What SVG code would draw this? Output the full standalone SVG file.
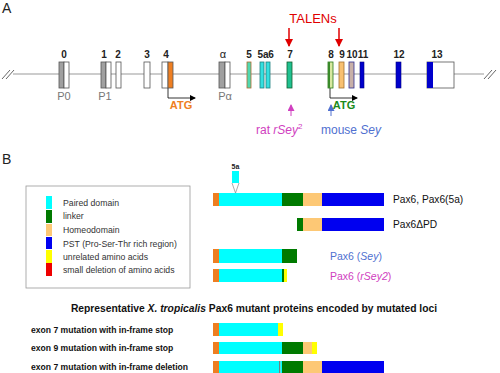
<svg xmlns="http://www.w3.org/2000/svg" width="500" height="373" viewBox="0 0 500 373">
<defs>
<style>
text{font-family:"Liberation Sans",Arial,sans-serif}
.num{font-size:10px;font-weight:bold;fill:#222;text-anchor:middle}
.prom{font-size:11px;fill:#777;text-anchor:middle}
.ex{stroke:#555;stroke-width:0.8}
.leg{font-size:8.7px;fill:#333}
.lab{font-size:10.2px;fill:#111}
.mut{font-size:8.6px;font-weight:bold;fill:#111}
.or{fill:#ee7f22}.cy{fill:#00ffff}.gr{fill:#007a00}.ho{fill:#fdc875}.bl{fill:#0000f0}.ye{fill:#ffff00}.rd{fill:#ee0000}
</style>
<marker id="ah" markerWidth="6" markerHeight="6" refX="5" refY="3" orient="auto" markerUnits="userSpaceOnUse"><path d="M0,0 L6,3 L0,6 z" fill="#000"/></marker>
<marker id="ahr" markerWidth="8" markerHeight="8" refX="7" refY="4" orient="auto" markerUnits="userSpaceOnUse"><path d="M0,0 L8,4 L0,8 z" fill="#e00000"/></marker>
<marker id="ahm" markerWidth="7" markerHeight="7" refX="6" refY="3.5" orient="auto" markerUnits="userSpaceOnUse"><path d="M0,0 L7,3.5 L0,7 z" fill="#d040c0"/></marker>
<marker id="ahb" markerWidth="7" markerHeight="7" refX="6" refY="3.5" orient="auto" markerUnits="userSpaceOnUse"><path d="M0,0 L7,3.5 L0,7 z" fill="#5070d0"/></marker>
</defs>
<rect width="500" height="373" fill="#fff"/>
<text x="2" y="13" font-size="14" fill="#222">A</text>
<text x="2" y="164" font-size="14" fill="#222">B</text>

<g id="connectors">
<line x1="13" y1="74" x2="484" y2="74" stroke="#999" stroke-width="1.2"/>
<path d="M2,79 L10,70 M6,79 L14,70" stroke="#555" stroke-width="0.9" fill="none"/>
<path d="M484,79 L492,70 M488,79 L496,70" stroke="#555" stroke-width="0.9" fill="none"/>
<path d="M168,88 V98 H195" stroke="#000" stroke-width="0.8" fill="none" marker-end="url(#ah)"/>
<path d="M330,88 V98 H357" stroke="#000" stroke-width="0.8" fill="none" marker-end="url(#ah)"/>
<line x1="289" y1="28" x2="289" y2="46" stroke="#e00000" stroke-width="1.5" marker-end="url(#ahr)"/>
<line x1="339" y1="28" x2="339" y2="46" stroke="#e00000" stroke-width="1.5" marker-end="url(#ahr)"/>
<line x1="291" y1="116" x2="291" y2="105" stroke="#d040c0" stroke-width="1" marker-end="url(#ahm)"/>
<line x1="331" y1="116" x2="331" y2="105" stroke="#5070d0" stroke-width="1" marker-end="url(#ahb)"/>
<path d="M232,183 L235.5,193 L239,183" stroke="#888" stroke-width="0.7" fill="none"/>
</g>

<g id="exon0"><rect x="59" y="62" width="5" height="26" fill="#a0a0a0" class="ex"/><rect x="64" y="62" width="5" height="26" fill="#fff" class="ex"/><text x="64" y="58" class="num">0</text><text x="64" y="100" class="prom">P0</text></g>
<g id="exon1"><rect x="101" y="62" width="5" height="26" fill="#a0a0a0" class="ex"/><rect x="106" y="62" width="5" height="26" fill="#fff" class="ex"/><text x="104" y="58" class="num">1</text><text x="105" y="100" class="prom">P1</text></g>
<g id="exon2"><rect x="116" y="62" width="5" height="26" fill="#fff" class="ex"/><text x="118" y="58" class="num">2</text></g>
<g id="exon3"><rect x="144" y="62" width="6" height="26" fill="#fff" class="ex"/><text x="147" y="58" class="num">3</text></g>
<g id="exon4"><rect x="162" y="62" width="6" height="26" fill="#fff" class="ex"/><rect x="168" y="62" width="5" height="26" fill="#ee7f22" class="ex"/><text x="166" y="58" class="num">4</text><text x="181" y="109" font-size="11" font-weight="bold" fill="#ee7f22" text-anchor="middle">ATG</text></g>
<g id="exonA"><rect x="219" y="62" width="6" height="26" fill="#a0a0a0" class="ex"/><rect x="225" y="62" width="5" height="26" fill="#fff" class="ex"/><text x="223" y="58" font-size="11" fill="#222" text-anchor="middle">α</text><text x="225" y="100" class="prom">Pα</text></g>
<g id="exon5"><rect x="247" y="62" width="4" height="26" fill="#50d8b0" stroke="#b06a30" stroke-width="0.8"/><text x="249" y="58" class="num">5</text></g>
<g id="exon5a"><rect x="260" y="62" width="4" height="26" fill="#33e0e0" stroke="#208080" stroke-width="0.8"/><text x="263" y="58" class="num">5a</text></g>
<g id="exon6"><rect x="266" y="62" width="4" height="26" fill="#33e0e0" stroke="#208080" stroke-width="0.8"/><text x="271" y="58" class="num">6</text></g>
<g id="exon7"><rect x="287" y="62" width="5" height="26" fill="#20c090" stroke="#106030" stroke-width="0.8"/><text x="290" y="58" class="num">7</text></g>
<g id="exon8"><rect x="328" y="62" width="5" height="26" fill="#d8e8a0" stroke="#2a7a1a" stroke-width="0.8"/><rect x="328" y="62" width="2" height="26" fill="#3a8a2a"/><text x="331" y="58" class="num">8</text><text x="344" y="109" font-size="11" font-weight="bold" fill="#1a8a1a" text-anchor="middle">ATG</text></g>
<g id="exon9"><rect x="339" y="62" width="5" height="26" fill="#f8c070" stroke="#a07030" stroke-width="0.8"/><text x="342" y="58" class="num">9</text></g>
<g id="exon10"><rect x="349" y="62" width="5" height="26" fill="#c8b0a8" stroke="#303090" stroke-width="0.8"/><text x="352" y="58" class="num">10</text></g>
<g id="exon11"><rect x="360" y="62" width="4" height="26" fill="#0000cc" stroke="#000080" stroke-width="0.6"/><text x="363" y="58" class="num">11</text></g>
<g id="exon12"><rect x="396" y="62" width="5" height="26" fill="#0000cc" stroke="#000080" stroke-width="0.6"/><text x="399" y="58" class="num">12</text></g>
<g id="exon13"><rect x="427" y="62" width="27" height="26" fill="#fff" class="ex"/><rect x="427" y="62" width="6" height="26" fill="#0000cc"/><text x="437" y="58" class="num">13</text></g>

<g id="talens"><text x="313" y="23" font-size="13" fill="#e00000" text-anchor="middle">TALENs</text></g>
<g id="rat"><text x="256" y="134" font-size="12" fill="#d040c0">rat <tspan font-style="italic">rSey</tspan><tspan font-size="8" dy="-5">2</tspan></text></g>
<g id="mouse"><text x="321" y="134" font-size="12" fill="#5070d0">mouse <tspan font-style="italic">Sey</tspan></text></g>

<g id="legend">
<rect x="26" y="186" width="164" height="102" fill="#fff" stroke="#999" stroke-width="0.8"/>
<rect x="46" y="196" width="6" height="13" class="cy"/><text x="63" y="206" class="leg">Paired domain</text>
<rect x="46" y="210" width="6" height="13" class="gr"/><text x="63" y="219" class="leg">linker</text>
<rect x="46" y="224" width="6" height="12" class="ho"/><text x="63" y="233" class="leg">Homeodomain</text>
<rect x="46" y="237" width="6" height="12" class="bl"/><text x="63" y="247" class="leg">PST (Pro-Ser-Thr rich region)</text>
<rect x="46" y="250" width="6" height="13" class="ye"/><text x="63" y="260" class="leg">unrelated amino acids</text>
<rect x="46" y="263" width="6" height="13" class="rd"/><text x="63" y="273" class="leg">small deletion of amino acids</text>
</g>

<g id="pax6">
<rect x="232" y="171" width="7" height="12" class="cy"/><text x="235.5" y="169" font-size="7" font-weight="bold" fill="#222" text-anchor="middle">5a</text>
<rect x="213" y="193" width="6" height="13" class="or"/><rect x="219" y="193" width="63" height="13" class="cy"/><rect x="282" y="193" width="21" height="13" class="gr"/><rect x="303" y="193" width="19" height="13" class="ho"/><rect x="322" y="193" width="62" height="13" class="bl"/>
<text x="393" y="203" class="lab">Pax6, Pax6(5a)</text>
</g>
<g id="pax6dpd">
<rect x="297" y="218" width="6" height="13" class="gr"/><rect x="303" y="218" width="19" height="13" class="ho"/><rect x="322" y="218" width="62" height="13" class="bl"/>
<text x="393" y="228" class="lab">Pax6ΔPD</text>
</g>
<g id="pax6sey">
<rect x="213" y="249" width="6" height="14" class="or"/><rect x="219" y="249" width="63" height="14" class="cy"/><rect x="282" y="249" width="15" height="14" class="gr"/>
<text x="330" y="260" font-size="10.5" fill="#5070d0">Pax6 (<tspan font-style="italic">Sey</tspan>)</text>
</g>
<g id="pax6rsey2">
<rect x="213" y="269" width="6" height="13" class="or"/><rect x="219" y="269" width="63" height="13" class="cy"/><rect x="282" y="269" width="2" height="13" class="gr"/><rect x="284" y="269" width="3" height="13" class="ye"/>
<text x="330" y="280" font-size="10.5" fill="#d040c0">Pax6 (<tspan font-style="italic">rSey2</tspan>)</text>
</g>

<text x="254" y="312" font-size="10.3" font-weight="bold" fill="#111" text-anchor="middle">Representative <tspan font-style="italic">X. tropicalis</tspan> Pax6 mutant proteins encoded by mutated loci</text>

<g id="mut1">
<text x="31" y="333" class="mut">exon 7 mutation with in-frame stop</text>
<rect x="213" y="323" width="6" height="13" class="or"/><rect x="219" y="323" width="59" height="13" class="cy"/><rect x="278" y="323" width="5" height="13" class="ye"/>
</g>
<g id="mut2">
<text x="31" y="351" class="mut">exon 9 mutation with in-frame stop</text>
<rect x="213" y="342" width="6" height="12" class="or"/><rect x="219" y="342" width="63" height="12" class="cy"/><rect x="282" y="342" width="21" height="12" class="gr"/><rect x="303" y="342" width="9" height="12" class="ho"/><rect x="312" y="342" width="5" height="12" class="ye"/>
</g>
<g id="mut3">
<text x="31" y="370" class="mut">exon 7 mutation with in-frame deletion</text>
<rect x="213" y="361" width="6" height="12" class="or"/><rect x="219" y="361" width="60" height="12" class="cy"/><rect x="279" y="361" width="1.5" height="12" fill="#708080"/><rect x="280.5" y="361" width="1.5" height="12" class="cy"/><rect x="282" y="361" width="21" height="12" class="gr"/><rect x="303" y="361" width="19" height="12" class="ho"/><rect x="322" y="361" width="62" height="12" class="bl"/>
</g>
</svg>
